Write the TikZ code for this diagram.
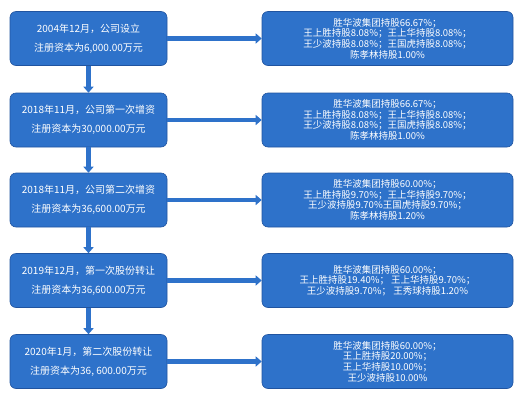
\documentclass[tikz,border=0pt]{standalone}
\usepackage{fontspec}
\setmainfont{Noto Sans CJK SC}
\usepackage{tikz}
\usetikzlibrary{arrows.meta}
\definecolor{boxblue}{RGB}{46,114,202}
\definecolor{edgeblue}{RGB}{32,84,160}

\begin{document}
\begin{tikzpicture}[x=1pt,y=-1pt,
    stagebox/.style={draw=edgeblue, line width=0.6pt, fill=boxblue, rounded corners=6pt,
        minimum width=157pt, minimum height=54pt, inner sep=0pt, text=white,
        align=center, font=\fontsize{10}{19}\selectfont},
    holdbox/.style={draw=edgeblue, line width=0.6pt, fill=boxblue, rounded corners=6pt,
        minimum width=251pt, minimum height=54pt, inner sep=0pt, text=white,
        align=center, font=\fontsize{9.5}{10.6}\selectfont},
    flow/.style={boxblue, line width=4.5pt, -{Triangle[width=10pt,length=6pt]}}]
    \useasboundingbox (0,0) rectangle (520,400);

    \node[stagebox] (s2004) at (88.5,38.5) {2004年12月，公司设立\\注册资本为6,000.00万元};
    \node[holdbox] (h2004) at (387.5,38.5) {胜华波集团持股66.67\%；\\王上胜持股8.08\%；王上华持股8.08\%；\\王少波持股8.08\%；王国虎持股8.08\%；\\陈孝林持股1.00\%};

    \node[stagebox] (s2018a) at (88.5,120) {2018年11月，公司第一次增资\\注册资本为30,000.00万元};
    \node[holdbox] (h2018a) at (387.5,120) {胜华波集团持股66.67\%；\\王上胜持股8.08\%；王上华持股8.08\%；\\王少波持股8.08\%；王国虎持股8.08\%；\\陈孝林持股1.00\%};

    \node[stagebox] (s2018b) at (88.5,200) {2018年11月，公司第二次增资\\注册资本为36,600.00万元};
    \node[holdbox] (h2018b) at (387.5,200) {胜华波集团持股60.00\%；\\王上胜持股9.70\%；王上华持股9.70\%；\\王少波持股9.70\%王国虎持股9.70\%；\\陈孝林持股1.20\%};

    \node[stagebox] (s2019) at (88.5,280.5) {2019年12月，第一次股份转让\\注册资本为36,600.00万元};
    \node[holdbox] (h2019) at (387.5,280.5) {胜华波集团持股60.00\%；\\王上胜持股19.40\%；\ 王上华持股9.70\%；\\王少波持股9.70\%；\ 王秀球持股1.20\%};

    \node[stagebox] (s2020) at (88.5,361.5) {2020年1月，第二次股份转让\\注册资本为36, 600.00万元};
    \node[holdbox] (h2020) at (387.5,361.5) {胜华波集团持股60.00\%；\\王上胜持股20.00\%；\\王上华持股10.00\%；\\王少波持股10.00\%};

    \draw[flow] (s2004) -- (s2018a);
    \draw[flow] (s2018a) -- (s2018b);
    \draw[flow] (s2018b) -- (s2019);
    \draw[flow] (s2019) -- (s2020);

    \draw[flow] (s2004) -- (h2004);
    \draw[flow] (s2018a) -- (h2018a);
    \draw[flow] (s2018b) -- (h2018b);
    \draw[flow] (s2019) -- (h2019);
    \draw[flow] (s2020) -- (h2020);
\end{tikzpicture}
\end{document}
